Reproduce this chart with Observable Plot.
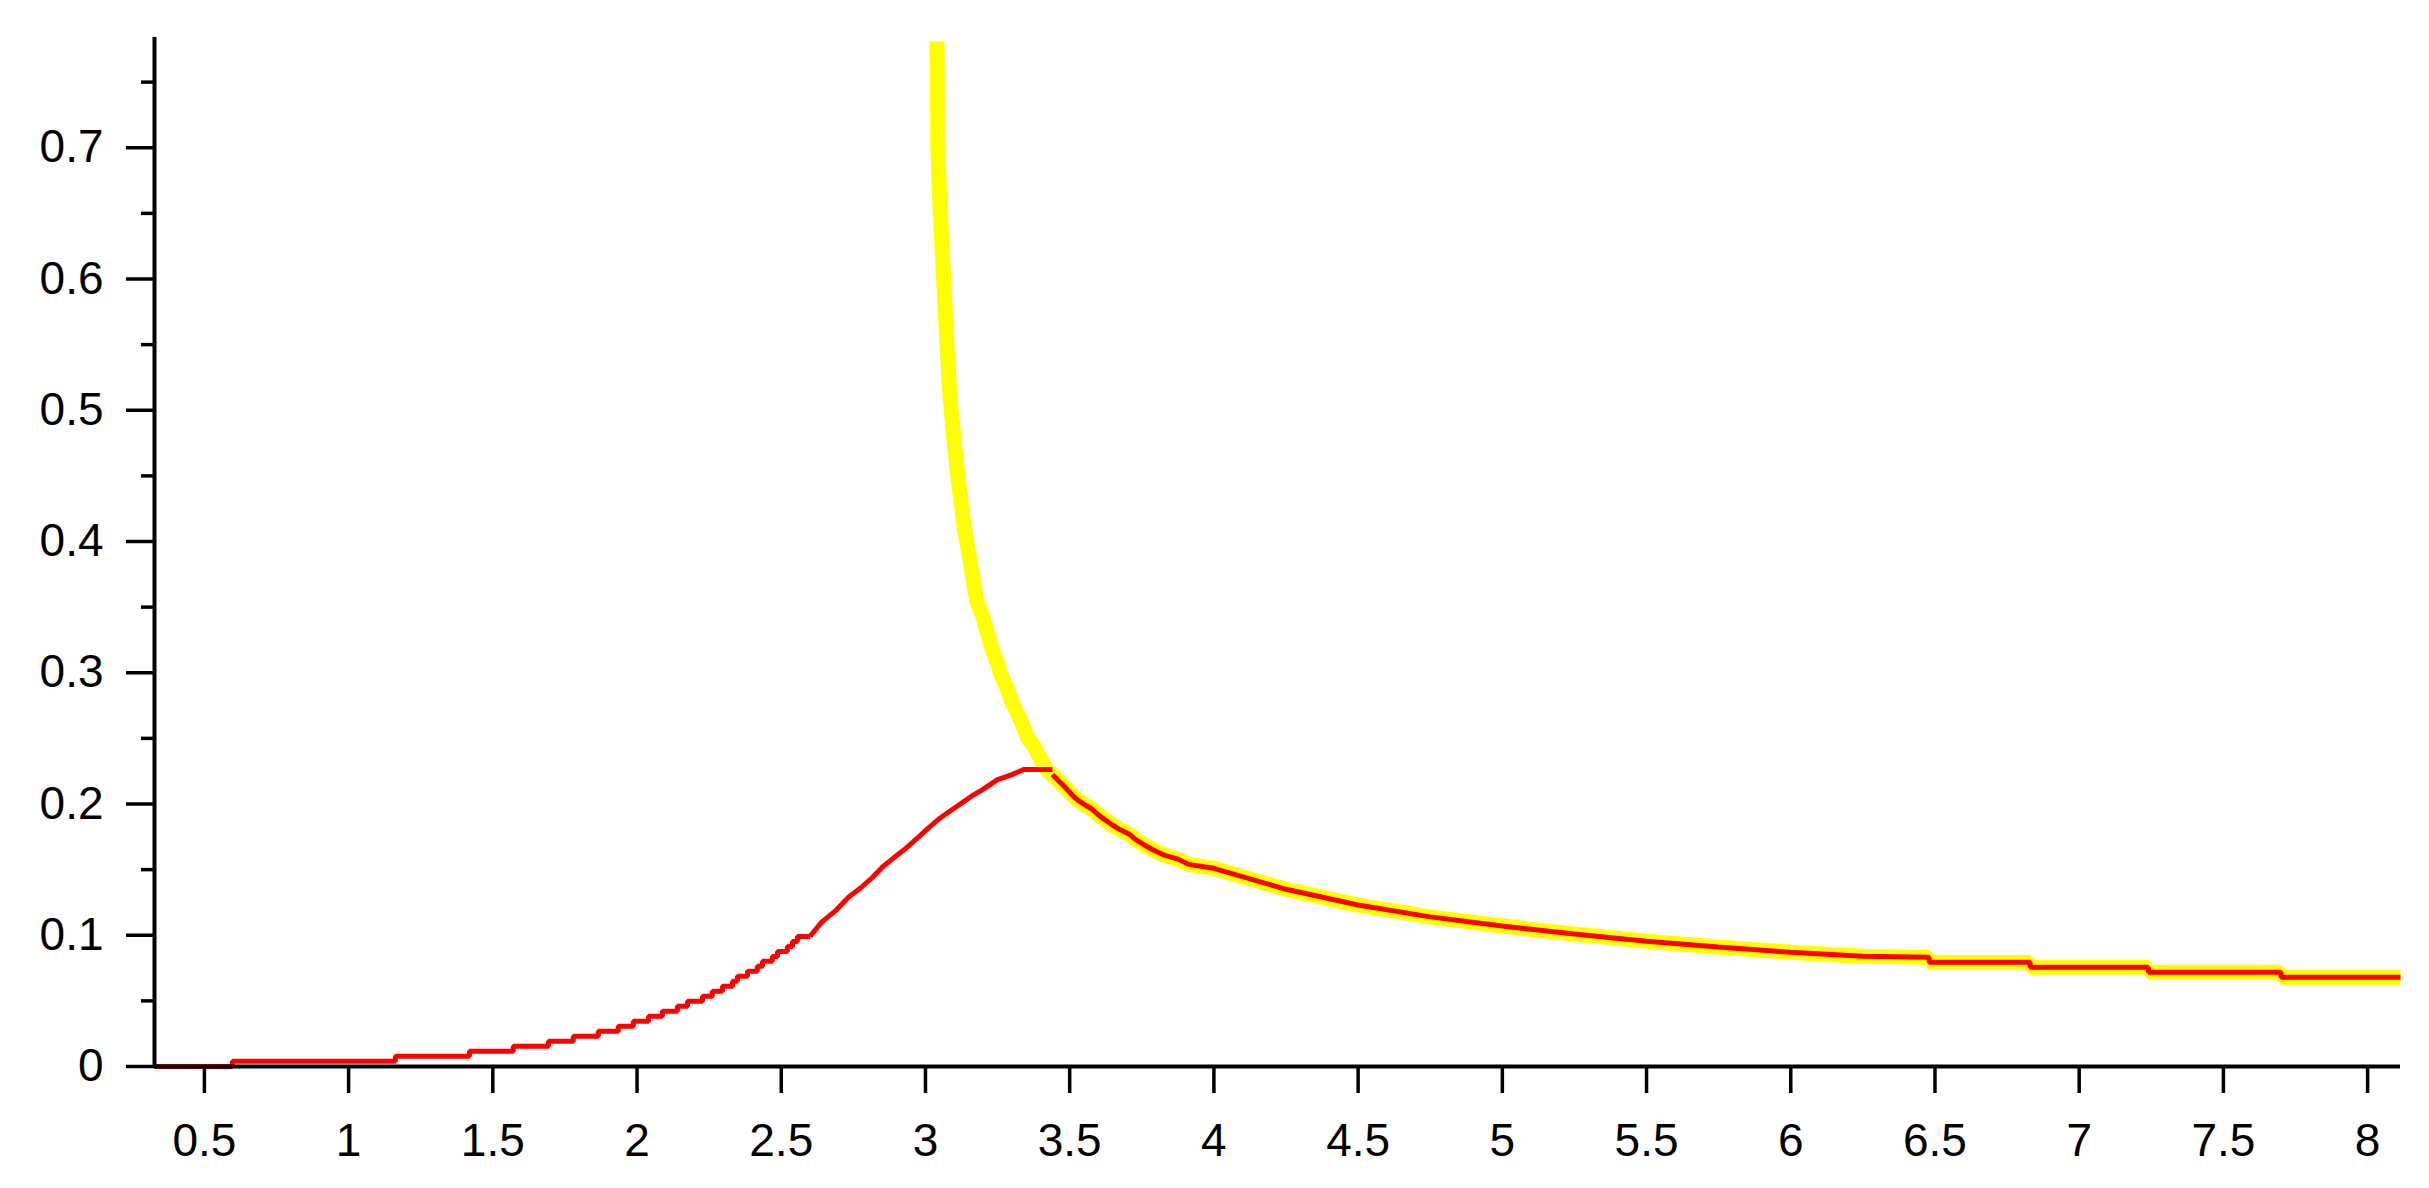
<!DOCTYPE html>
<html>
<head>
<meta charset="utf-8">
<script src="https://cdn.jsdelivr.net/npm/d3@7"></script>
<script src="https://cdn.jsdelivr.net/npm/@observablehq/plot@0.6"></script>
<style>
  html, body { margin: 0; padding: 0; background: #ffffff; }
  #chart svg { display: block; }
</style>
</head>
<body>
<div id="chart"></div>
<script>
// ---- axis ticks ----
const xTicks = [0.5, 1, 1.5, 2, 2.5, 3, 3.5, 4, 4.5, 5, 5.5, 6, 6.5, 7, 7.5, 8];
const yTicks = [0, 0.1, 0.2, 0.3, 0.4, 0.5, 0.6, 0.7];
const yMinorTicks = [0.05, 0.15, 0.25, 0.35, 0.45, 0.55, 0.65, 0.75];
const xDomain = [0.327, 8.114];
const yDomain = [0, 0.784];

// ---- red curve, low rising part (step starts) ----
const riseLowX = [0.327, 0.597, 1.162, 1.419, 1.571, 1.693, 1.779, 1.866, 1.935, 1.987, 2.040, 2.088, 2.140, 2.175,
  2.227, 2.261, 2.296, 2.331, 2.348, 2.383, 2.417, 2.435, 2.469, 2.487, 2.521, 2.539, 2.556, 2.600];
const riseLowY = [0, 0.0040, 0.0079, 0.0117, 0.0155, 0.0193, 0.0231, 0.0269, 0.0307, 0.0345, 0.0383, 0.0421, 0.0459, 0.0497,
  0.0535, 0.0573, 0.0611, 0.0649, 0.0687, 0.0725, 0.0763, 0.0801, 0.0839, 0.0877, 0.0915, 0.0953, 0.0991, 0.0991];

// ---- red curve, upper rising part up to the peak ----
const riseHighX = [2.600, 2.640, 2.690, 2.733, 2.775, 2.816, 2.851, 2.890, 2.931, 2.972, 3.007, 3.049, 3.094, 3.118,
  3.167, 3.198, 3.250, 3.300, 3.340, 3.440];
const riseHighY = [0.0991, 0.110, 0.119, 0.129, 0.136, 0.144, 0.152, 0.159, 0.166, 0.174, 0.181, 0.189, 0.196, 0.1995,
  0.207, 0.211, 0.2186, 0.2224, 0.2262, 0.2262];

// ---- yellow curve, steep part ----
const steepX = [3.040, 3.043, 3.050, 3.063, 3.076, 3.085, 3.100, 3.115, 3.135, 3.155, 3.177, 3.197, 3.215, 3.232, 3.249,
  3.267, 3.284, 3.302, 3.319, 3.336, 3.354, 3.371, 3.388, 3.406, 3.423, 3.440];
const steepY = [0.781, 0.700, 0.657, 0.600, 0.545, 0.510, 0.475, 0.445, 0.410, 0.385, 0.355, 0.344, 0.330, 0.318, 0.307,
  0.2955, 0.288, 0.2765, 0.269, 0.261, 0.2506, 0.246, 0.239, 0.2315, 0.2255, 0.2224];

// ---- shared tail (red over yellow) ----
const tailX = [3.440, 3.457, 3.474, 3.491, 3.508, 3.528, 3.552, 3.578, 3.598, 3.622, 3.648, 3.674, 3.707, 3.728, 3.757,
  3.790, 3.828, 3.876, 3.912, 4.000, 4.250, 4.500, 4.750, 5.000, 5.250, 5.500, 5.750, 6.000, 6.250,
  6.480, 6.480, 6.830, 6.830, 7.240, 7.240, 7.700, 7.700, 8.114];
const tailY = [0.2224, 0.2186, 0.215, 0.211, 0.207, 0.203, 0.1995, 0.196, 0.192, 0.188, 0.184, 0.1805, 0.177, 0.173, 0.169,
  0.165, 0.161, 0.158, 0.154, 0.151, 0.135, 0.123, 0.114, 0.107, 0.101, 0.0955, 0.091, 0.087, 0.0840,
  0.0832, 0.0794, 0.0794, 0.0756, 0.0756, 0.0718, 0.0718, 0.0680, 0.0680];

const toRows = (xs, ys) => xs.map((x, i) => ({x, y: ys[i]}));
const riseLow = toRows(riseLowX, riseLowY);
const riseHigh = toRows(riseHighX, riseHighY);
const steep = toRows(steepX, steepY);
const tail = toRows(tailX, tailY);

const fmt = d => String(d);
const lineOpts = {x: "x", y: "y", strokeLinecap: "butt", strokeLinejoin: "miter"};

const chart = Plot.plot({
  width: 2429,
  height: 1188,
  marginLeft: 154,
  marginRight: 29,
  marginTop: 37,
  marginBottom: 122,
  style: {fontFamily: "'Liberation Sans', Arial, sans-serif", fontSize: "46px", background: "#ffffff", color: "#000000"},
  x: {domain: xDomain},
  y: {domain: yDomain},
  marks: [
    // yellow curve
    Plot.line(steep, {...lineOpts, stroke: "#ffff00", strokeWidth: 15}),
    Plot.line(tail, {...lineOpts, stroke: "#ffff00", strokeWidth: 15}),
    // red curve
    Plot.line(riseLow, {...lineOpts, curve: "step-after", stroke: "#ff0000", strokeWidth: 5}),
    Plot.line(riseHigh, {...lineOpts, stroke: "#ff0000", strokeWidth: 5}),
    Plot.line(tail, {...lineOpts, stroke: "#ff0000", strokeWidth: 5}),
    // axes
    Plot.axisY(yMinorTicks, {tickSize: 13, tickFormat: () => "", strokeWidth: 3.5, label: null}),
    Plot.axisY(yTicks, {tickSize: 28, tickPadding: 23, tickFormat: fmt, strokeWidth: 3.5, label: null}),
    Plot.axisX(xTicks, {tickSize: 27, tickPadding: 30, tickFormat: fmt, strokeWidth: 3.5, label: null}),
    Plot.ruleX([xDomain[0]], {stroke: "#000000", strokeWidth: 4}),
    Plot.ruleY([0], {stroke: "#000000", strokeWidth: 4})
  ]
});
document.getElementById("chart").appendChild(chart);
</script>
</body>
</html>
